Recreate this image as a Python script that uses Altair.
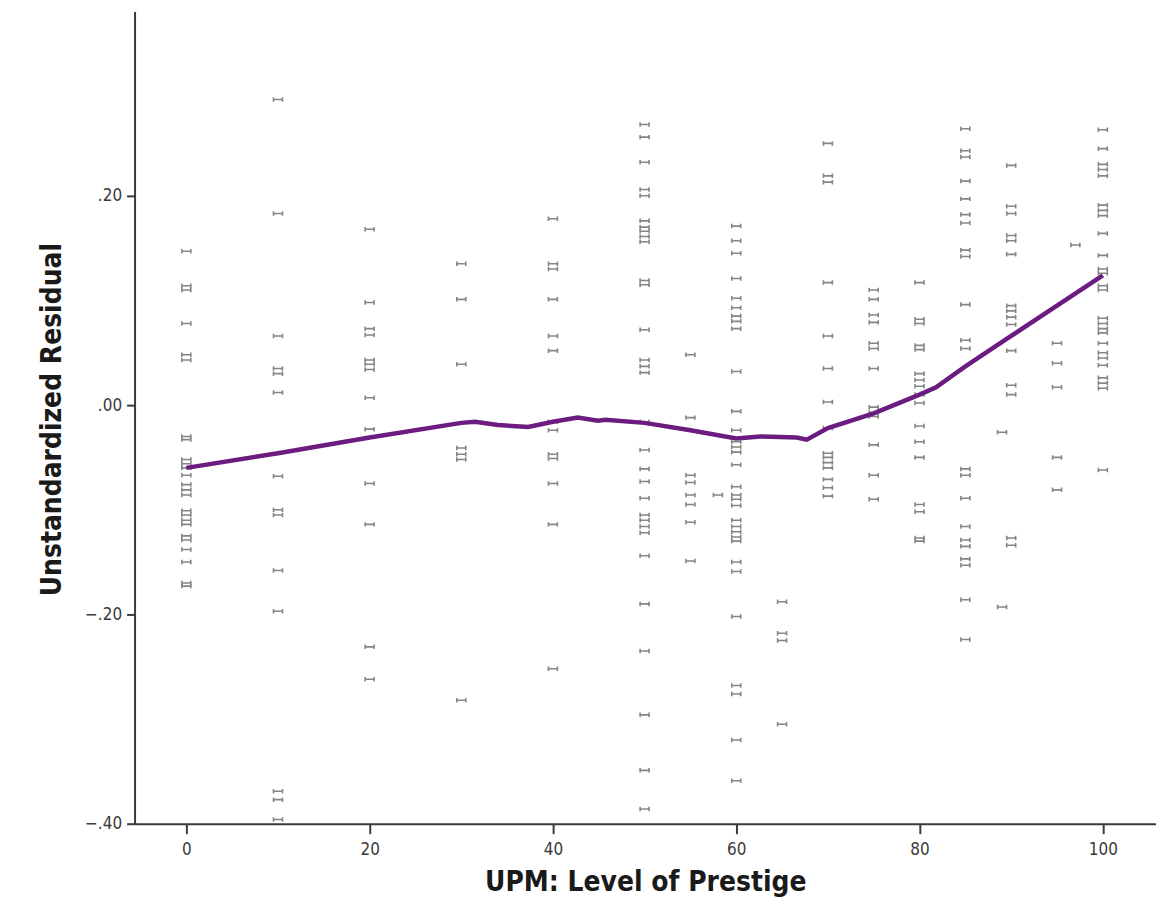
import altair as alt
import pandas as pd

# Residuals per prestige level
res_0 = [0.147, 0.114, 0.110, 0.078, 0.048, 0.043, -0.030, -0.033, -0.052, -0.056, -0.060,
         -0.067, -0.076, -0.081, -0.086, -0.101, -0.105, -0.110, -0.114, -0.125, -0.129,
         -0.138, -0.150, -0.170, -0.173]
res_10 = [0.292, 0.183, 0.066, 0.035, 0.030, 0.012, -0.068, -0.100, -0.105, -0.158, -0.197,
          -0.369, -0.377, -0.396]
res_20 = [0.168, 0.098, 0.073, 0.067, 0.043, 0.039, 0.034, 0.007, -0.023, -0.075, -0.114,
          -0.231, -0.262]
res_30 = [0.135, 0.101, 0.039, -0.041, -0.047, -0.052, -0.282]
res_40 = [0.178, 0.135, 0.130, 0.101, 0.066, 0.052, -0.016, -0.024, -0.047, -0.051, -0.075,
          -0.114, -0.252]
res_50 = [0.268, 0.256, 0.232, 0.206, 0.200, 0.176, 0.170, 0.166, 0.161, 0.156, 0.119, 0.115,
          0.072, 0.043, 0.037, 0.031, -0.016, -0.043, -0.061, -0.073, -0.089, -0.105, -0.110,
          -0.116, -0.122, -0.144, -0.190, -0.235, -0.296, -0.349, -0.386]
res_55 = [0.048, -0.012, -0.067, -0.074, -0.086, -0.095, -0.112, -0.149]
res_58 = [-0.086]
res_60 = [0.171, 0.157, 0.145, 0.121, 0.102, 0.093, 0.085, 0.080, 0.073, 0.032, -0.006, -0.024,
          -0.035, -0.040, -0.045, -0.057, -0.078, -0.086, -0.090, -0.096, -0.110, -0.116,
          -0.121, -0.126, -0.130, -0.150, -0.159, -0.202, -0.268, -0.276, -0.320, -0.359]
res_65 = [-0.188, -0.218, -0.225, -0.305]
res_70 = [0.250, 0.219, 0.213, 0.117, 0.066, 0.035, 0.003, -0.022, -0.046, -0.050, -0.055,
          -0.060, -0.071, -0.079, -0.087]
res_75 = [0.110, 0.101, 0.086, 0.079, 0.059, 0.054, 0.035, -0.002, -0.007, -0.011, -0.038,
          -0.067, -0.090]
res_80 = [0.117, 0.082, 0.078, 0.057, 0.053, 0.030, 0.024, 0.018, 0.010, 0.002, -0.020, -0.035,
          -0.050, -0.095, -0.102, -0.127, -0.130]
res_85 = [0.264, 0.243, 0.237, 0.214, 0.197, 0.182, 0.174, 0.148, 0.142, 0.096, 0.062, 0.054,
          -0.061, -0.067, -0.089, -0.116, -0.129, -0.135, -0.147, -0.153, -0.186, -0.224]
res_89 = [-0.026, -0.193]
res_90 = [0.229, 0.190, 0.183, 0.162, 0.157, 0.144, 0.095, 0.090, 0.084, 0.077, 0.052, 0.019,
          0.010, -0.127, -0.134]
res_95 = [0.059, 0.040, 0.017, -0.050, -0.081]
res_97 = [0.153]
res_100 = [0.263, 0.245, 0.230, 0.225, 0.219, 0.191, 0.186, 0.181, 0.164, 0.143, 0.130, 0.126,
           0.114, 0.110, 0.083, 0.078, 0.073, 0.069, 0.059, 0.050, 0.045, 0.038, 0.026, 0.021,
           0.016, -0.062]

columns = [(0, res_0), (10, res_10), (20, res_20), (30, res_30), (40, res_40), (50, res_50),
           (55, res_55), (58, res_58), (60, res_60), (65, res_65), (70, res_70), (75, res_75),
           (80, res_80), (85, res_85), (89, res_89), (90, res_90), (95, res_95), (97, res_97),
           (100, res_100)]

# Loess fit line
loess_x = [0, 10, 20, 30, 31.5, 34, 37.3, 40, 42.7, 44.9, 45.7, 50, 55, 60, 62.6, 66.6, 67.7,
           70, 75, 80, 81.8, 85, 90, 95, 100]
loess_y = [-0.060, -0.046, -0.031, -0.017, -0.016, -0.019, -0.021, -0.016, -0.012, -0.015,
           -0.014, -0.017, -0.024, -0.032, -0.030, -0.031, -0.033, -0.022, -0.008, 0.010,
           0.017, 0.037, 0.066, 0.095, 0.124]

x_ticks = [0, 20, 40, 60, 80, 100]
y_ticks = [-0.4, -0.2, 0.0, 0.2]

rows = []
for xv, vals in columns:
    for v in vals:
        rows.append({"prestige": xv, "resid": v})
pts = pd.DataFrame(rows)
fit = pd.DataFrame({"prestige": loess_x, "resid": loess_y})

TITLE_FONT = "DejaVu Sans Condensed, Liberation Sans Narrow, DejaVu Sans, sans-serif"

xscale = alt.Scale(domain=[-5.65, 105.8], nice=False, zero=False)
yscale = alt.Scale(domain=[-0.40, 0.376], nice=False, zero=False)

xaxis = alt.Axis(values=x_ticks, title="UPM: Level of Prestige", grid=False,
                 tickSize=10, tickWidth=2, tickColor="#3a3a3a",
                 domainColor="#3a3a3a", domainWidth=2,
                 labelFont=TITLE_FONT, labelFontSize=17, labelColor="#3a3a3a", labelPadding=8,
                 titleFont=TITLE_FONT, titleFontSize=28, titleFontWeight="bold",
                 titleColor="#1a1a1a", titleY=67, titleBaseline="alphabetic")
yaxis = alt.Axis(values=y_ticks, title="Unstandardized Residual", grid=False,
                 labelExpr="replace(format(datum.value, '.2f'), '0.', '.')",
                 tickSize=8, tickWidth=2, tickColor="#3a3a3a",
                 domainColor="#3a3a3a", domainWidth=2,
                 labelFont=TITLE_FONT, labelFontSize=17, labelColor="#3a3a3a", labelPadding=5,
                 titleFont=TITLE_FONT, titleFontSize=28, titleFontWeight="bold",
                 titleColor="#1a1a1a", titleX=-82, titleY=409, titleBaseline="middle",
                 titleAngle=270)

points = alt.Chart(pts).mark_point(
    shape="M-1,-0.5V0.5M1,-0.5V0.5M-1,0H1",
    filled=False, size=81, strokeWidth=1.6, color="#858585", opacity=1
).encode(
    x=alt.X("prestige:Q", scale=xscale, axis=xaxis),
    y=alt.Y("resid:Q", scale=yscale, axis=yaxis),
)

line = alt.Chart(fit).mark_line(color="#6c1c80", strokeWidth=4.5).encode(
    x=alt.X("prestige:Q", scale=xscale),
    y=alt.Y("resid:Q", scale=yscale),
)

chart = alt.layer(points, line).properties(
    width=1025, height=815,
    background="white",
    autosize=alt.AutoSizeParams(type="none"),
    padding={"left": 127, "top": 2, "right": 0, "bottom": 72},
).configure_view(stroke=None)

chart.save("out.html", embed_options={"renderer": "svg", "actions": False})
